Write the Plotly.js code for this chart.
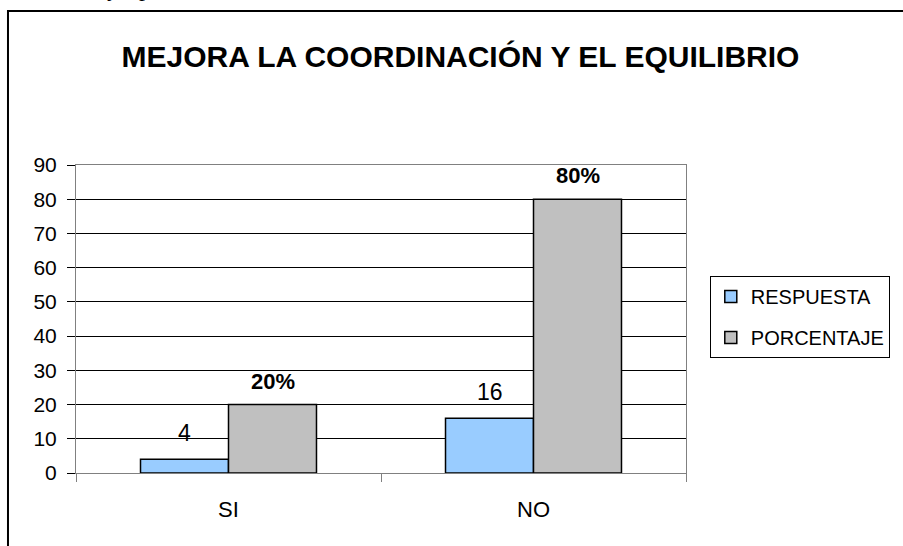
<!DOCTYPE html>
<html>
<head>
<meta charset="utf-8">
<script src="https://cdn.plot.ly/plotly-3.0.1.min.js"></script>
<style>html,body{margin:0;padding:0;background:#fff;}#chart{width:903px;height:546px;}</style>
</head>
<body>
<div id="chart"></div>
<script>
const categories = ["SI", "NO"];
const respuesta = [4, 16];
const porcentaje = [20, 80];
const porcentajeLabels = ["20%", "80%"];
const yTicks = [0, 10, 20, 30, 40, 50, 60, 70, 80, 90];
const chartTitle = "MEJORA LA COORDINACIÓN Y EL EQUILIBRIO";

const FONT = "Liberation Sans, Arial, sans-serif";

const traces = [
  {type: "bar", name: "RESPUESTA", x: categories, y: respuesta, legendgroup: "a",
   marker: {color: "#99CCFF", line: {color: "#000", width: 1.5}}, hoverinfo: "skip"},
  {type: "bar", name: "PORCENTAJE", x: categories, y: porcentaje, legendgroup: "b",
   marker: {color: "#C0C0C0", line: {color: "#000", width: 1.5}}, hoverinfo: "skip"}
];

const annotations = [];
categories.forEach((c, i) => {
  annotations.push({x: c, y: respuesta[i], xref: "x", yref: "y", text: String(respuesta[i]),
    showarrow: false, xshift: -44, yshift: 11, yanchor: "bottom",
    font: {family: FONT, size: 23, color: "#000"}});
  annotations.push({x: c, y: porcentaje[i], xref: "x", yref: "y", text: "<b>" + porcentajeLabels[i] + "</b>",
    showarrow: false, xshift: 44, yshift: 9, yanchor: "bottom",
    font: {family: FONT, size: 22, color: "#000"}});
});
// clipped document text fragments at the very top
annotations.push({x: 0.0475, y: 1.575, xref: "paper", yref: "paper", text: "y", showarrow: false,
  yanchor: "middle", font: {family: "Liberation Serif, serif", size: 24, color: "#000"}});
annotations.push({x: 0.1, y: 1.575, xref: "paper", yref: "paper", text: "p", showarrow: false,
  yanchor: "middle", font: {family: "Liberation Serif, serif", size: 24, color: "#000"}});

const layout = {
  width: 903, height: 546,
  margin: {l: 76, r: 217, t: 165, b: 73, pad: 0},
  paper_bgcolor: "#fff", plot_bgcolor: "#fff",
  font: {family: FONT, color: "#000"},
  title: {text: "<b>" + chartTitle + "</b>", x: 0.51, xref: "container", xanchor: "center",
          y: 0.896, yref: "container", yanchor: "middle",
          font: {family: FONT, size: 30, color: "#000"}},
  barmode: "group", bargap: 0.423, bargroupgap: 0,
  xaxis: {type: "category", tickson: "boundaries", ticks: "outside", ticklen: 8, tickcolor: "#808080",
          showline: true, linecolor: "#808080", linewidth: 1, mirror: true, showgrid: false,
          tickfont: {family: FONT, size: 22, color: "#000"}, ticklabelstandoff: 17, fixedrange: true},
  yaxis: {range: [0, 90], tickvals: yTicks, ticks: "outside", ticklen: 8, tickcolor: "#000",
          showline: true, linecolor: "#808080", linewidth: 1, mirror: true,
          showgrid: true, gridcolor: "#000", gridwidth: 1, zeroline: false,
          tickfont: {family: FONT, size: 21, color: "#000"}, ticklabelstandoff: 6, fixedrange: true},
  legend: {x: 1.039, y: 0.64, xanchor: "left", yanchor: "top", bordercolor: "#000", borderwidth: 1,
           font: {family: FONT, size: 20, color: "#000"}, tracegroupgap: 12, bgcolor: "#fff"},
  annotations: annotations,
  shapes: [{type: "rect", xref: "paper", yref: "paper", x0: -0.1115, x1: 1.6, y0: -0.5, y1: 1.5,
            line: {color: "#000", width: 2}, fillcolor: "rgba(0,0,0,0)", layer: "below"}]
};

Plotly.newPlot("chart", traces, layout, {displayModeBar: false, staticPlot: true});
</script>
</body>
</html>
